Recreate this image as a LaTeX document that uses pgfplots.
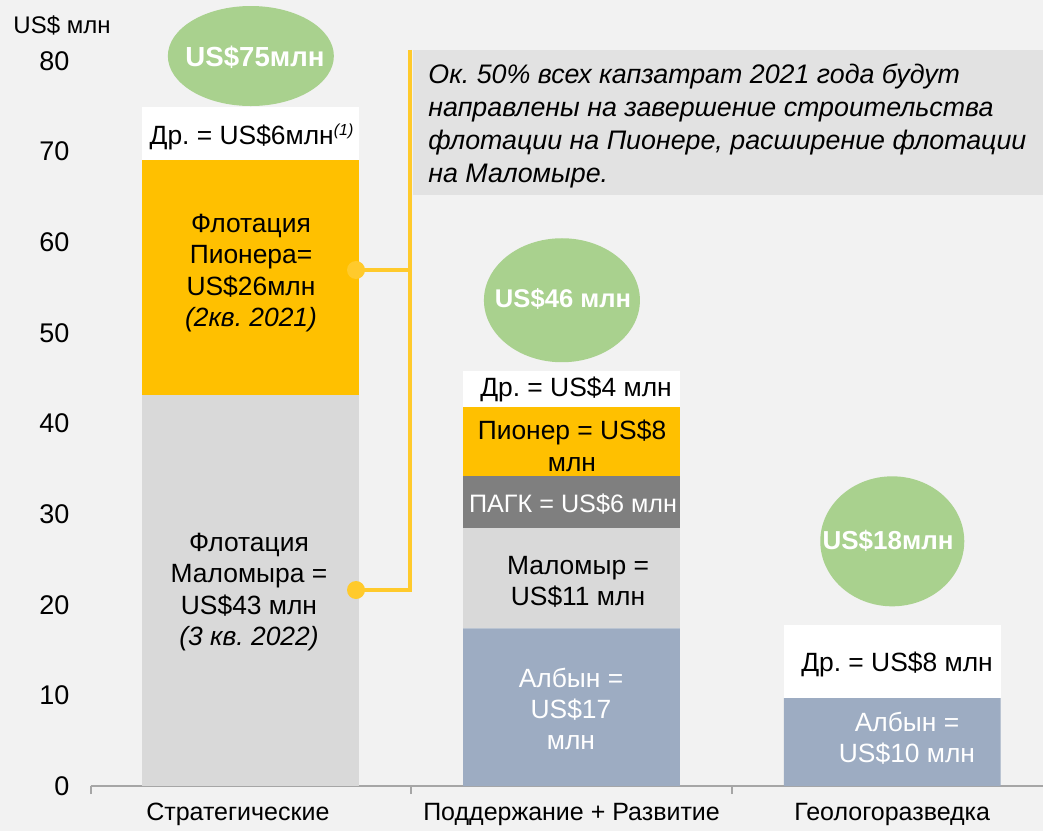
\documentclass[border=0pt]{standalone}
\usepackage{fontspec}
\setmainfont{Liberation Sans}
\usepackage{pgfplots}
\pgfplotsset{compat=1.18}
\definecolor{bg}{HTML}{F2F2F2}
\definecolor{lgrey}{HTML}{D9D9D9}
\definecolor{gold}{HTML}{FFC000}
\definecolor{blueg}{HTML}{9DACC2}
\definecolor{dgrey}{HTML}{7F7F7F}
\definecolor{greenc}{HTML}{A9D18E}
\definecolor{conn}{HTML}{FFCA2C}
\definecolor{boxg}{HTML}{E2E2E2}
\definecolor{axisg}{HTML}{A6A6A6}
\frenchspacing
\begin{document}
\begin{tikzpicture}[font=\fontsize{13.2}{15.7}\selectfont]
\fill[bg] (0,0) rectangle (521.5pt,415.5pt);
\begin{axis}[
  at={(45.25pt,22.5pt)}, anchor=south west,
  scale only axis, width=476.25pt, height=362.5pt,
  xmin=-0.5, xmax=2.47, ymin=0, ymax=80,
  ybar stacked, bar width=0.676,
  axis x line*=bottom, axis y line*=left,
  y axis line style={draw=none},
  x axis line style={draw=axisg, line width=1pt},
  ytick={0,10,...,80}, ytick style={draw=none},
  yticklabel style={font=\fontsize{13.5}{15}\selectfont, xshift=-7pt},
  /pgf/number format/assume math mode=true,
  xtick={0,1,2},
  xticklabels={{Стратегические\hspace*{13pt}}, {Поддержание + Развитие}, {Геологоразведка}},
  xticklabel style={font=\fontsize{12.5}{15}\selectfont, yshift=-5pt},
  major tick length=0pt,
  xtick style={draw=axisg, line width=1pt},
  tick align=outside,
  extra x ticks={-0.5,0.5,1.5},
  extra x tick labels={},
  extra x tick style={major tick length=4pt},
  clip=false,
]
% bottom layer
\addplot[fill=lgrey, draw=none] coordinates {(0,43.1) (1,0) (2,0)};
\addplot[fill=blueg, draw=none] coordinates {(0,0) (1,17.4) (2,9.7)};
% second layer
\addplot[fill=gold, draw=none] coordinates {(0,26) (1,0) (2,0)};
\addplot[fill=lgrey, draw=none] coordinates {(0,0) (1,11.1) (2,0)};
\addplot[fill=white, draw=none] coordinates {(0,0) (1,0) (2,8.1)};
% third layer
\addplot[fill=white, draw=none] coordinates {(0,5.8) (1,0) (2,0)};
\addplot[fill=dgrey, draw=none] coordinates {(0,0) (1,5.7) (2,0)};
% fourth / fifth
\addplot[fill=gold, draw=none] coordinates {(0,0) (1,7.6) (2,0)};
\addplot[fill=white, draw=none] coordinates {(0,0) (1,4.0) (2,0)};
% totals
\fill[greenc] (axis cs:0,80.55) ellipse [x radius=41.5pt, y radius=25pt];
\fill[greenc] (axis cs:0.97,53.6) ellipse [x radius=39pt, y radius=31pt];
\fill[greenc] (axis cs:2,27.0) ellipse [x radius=36pt, y radius=32.5pt];
\end{axis}
\begin{scope}[yshift=415.5pt, x=0.5pt, y=-0.5pt]
\fill[boxg] (413,50) rectangle (1043,195);
\draw[conn, line width=2.3pt] (410,50) -- (410,590) -- (356,590);
\draw[conn, line width=2.3pt] (410,270) -- (356,270);
\fill[conn] (356,270) circle[radius=4.5pt];
\fill[conn] (356,590) circle[radius=4.5pt];
\node[anchor=north west, align=left, inner sep=0pt, font=\fontsize{13.4}{16.5}\selectfont\itshape] at (428,63)
  {Ок. 50\% всех капзатрат 2021 года будут\\направлены на завершение строительства\\флотации на Пионере, расширение флотации\\на Маломыре.};
\node[font=\fontsize{12}{15}\selectfont] at (62,25) {US\$ млн};
% segment labels
\node[align=center] at (252,137) {Др. = US\$6млн\textsuperscript{\textit{\footnotesize(1)}}};
\node[align=center] at (251,273) {Флотация\\Пионера=\\US\$26млн\\\textit{(2кв. 2021)}};
\node[align=center] at (249,592) {Флотация\\Маломыра =\\US\$43 млн\\\textit{(3 кв. 2022)}};
\node[align=center] at (576,389) {Др. = US\$4 млн};
\node[align=center] at (572,446) {Пионер = US\$8\\млн};
\node[align=center, text=white, font=\fontsize{12.6}{15}\selectfont] at (573,504) {ПАГК = US\$6 млн};
\node[align=center] at (578,582) {Маломыр =\\US\$11 млн};
\node[align=center, text=white] at (571,709) {Албын =\\US\$17\\млн};
\node[align=center] at (897,664) {Др. = US\$8 млн};
\node[align=center, text=white] at (907,738) {Албын =\\US\$10 млн};
\node[text=white, font=\fontsize{13.8}{16}\selectfont\bfseries] at (255,57) {US\$75млн};
\node[text=white, font=\fontsize{12.8}{16}\selectfont\bfseries] at (563,299) {US\$46 млн};
\node[text=white, font=\fontsize{13}{16}\selectfont\bfseries] at (888,541) {US\$18млн};
\end{scope}
\pgfresetboundingbox
\path[use as bounding box] (0,0) rectangle (521.5pt,415.5pt);
\end{tikzpicture}
\end{document}
